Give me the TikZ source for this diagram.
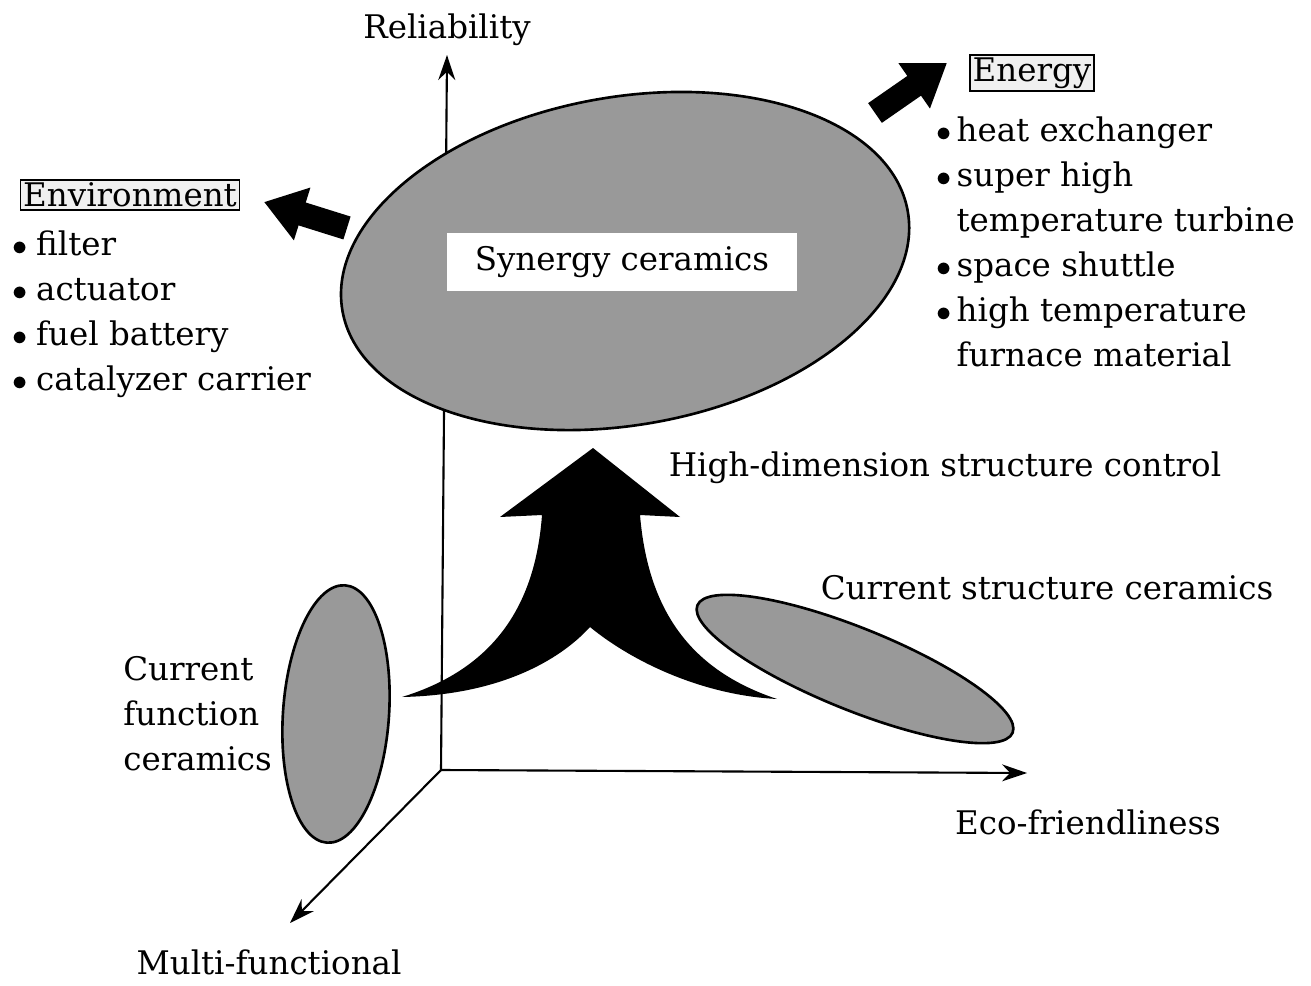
\documentclass[tikz,border=0pt]{standalone}
\usepackage{fontspec}
\setmainfont{DejaVu Serif}
\usepackage{tikz}
\usetikzlibrary{arrows.meta,positioning}
\definecolor{stipple}{gray}{0.6}

\begin{document}
\begin{tikzpicture}[
  x=0.02cm,y=-0.02cm,
  every node/.style={font=\fontsize{18.5}{25.6}\selectfont},
  axis/.style={line width=1.2pt,-{Stealth[length=5mm,width=3.4mm]}},
  blob/.style={draw,line width=1.5pt,fill=stipple},
  tagbox/.style={draw,line width=1pt,fill=gray!12,inner sep=1.5pt},
  fatarr/.style={line width=4.8mm,-{Triangle[length=8mm,width=10.5mm]}}
]
\useasboundingbox (0,0) rectangle (1311,986);

% axes
\coordinate (O) at (441,770);
\coordinate (rel) at (447,55);
\coordinate (eco) at (1027,773);
\coordinate (mul) at (290,923);
\draw[axis] (O) -- (rel);
\draw[axis] (O) -- (eco);
\draw[axis] (O) -- (mul);
\node (lrel) at (447,30) {Reliability};
\node (leco) at (1088,822) {Eco-friendliness};
\node (lmul) at (269,962) {Multi-functional};

% ceramics
\coordinate (syn) at (625,261);
\coordinate (fun) at (336,714);
\coordinate (funw) at (283,714);
\coordinate (str) at (855,669);
\draw[blob,rotate around={10:(syn)}] (syn) ellipse (287 and 164);
\draw[blob,rotate around={-4:(fun)}] (fun) ellipse (53 and 129);
\draw[blob,rotate around={-22:(str)}] (str) ellipse (170 and 41);
\node[fill=white,minimum width=7cm,minimum height=1.18cm] (lsyn) at (622,262) {Synergy ceramics};
\node[left=1mm of funw,align=left] (lfun) {Current\\function\\ceramics};
\node (lstr) at (1047,588) {Current structure ceramics};

% big arrow
\fill (593,448) -- (680,517) -- (640,515)
  .. controls (648,610) and (690,670) .. (777,699)
  .. controls (700,695) and (630,660) .. (590,627)
  .. controls (560,660) and (500,695) .. (402,697)
  .. controls (490,670) and (535,610) .. (542,515)
  -- (500,517) -- cycle;
\node (lhigh) at (945,468) {High-dimension structure control};

% environment
\coordinate (envtail) at (347,228);
\coordinate (envtip) at (264,202);
\draw[fatarr] (envtail) -- (envtip);
\node[tagbox] (env) at (130,195) {Environment};
\node[anchor=base west] (envlist) at (6,256) {\begin{tabular}[t]{@{}l@{\hspace{5pt}}l@{}}
$\bullet$ & filter\\
$\bullet$ & actuator\\
$\bullet$ & fuel battery\\
$\bullet$ & catalyzer carrier
\end{tabular}};

% energy
\coordinate (engtail) at (875,113);
\coordinate (engtip) at (947,63);
\draw[fatarr] (engtail) -- (engtip);
\node[tagbox] (eng) at (1032,73) {Energy};
\node[anchor=base west] (englist) at (930,142) {\begin{tabular}[t]{@{}l@{\hspace{3pt}}l@{}}
$\bullet$ & heat exchanger\\
$\bullet$ & super high\\
 & temperature turbine\\
$\bullet$ & space shuttle\\
$\bullet$ & high temperature\\
 & furnace material
\end{tabular}};
\end{tikzpicture}
\end{document}
